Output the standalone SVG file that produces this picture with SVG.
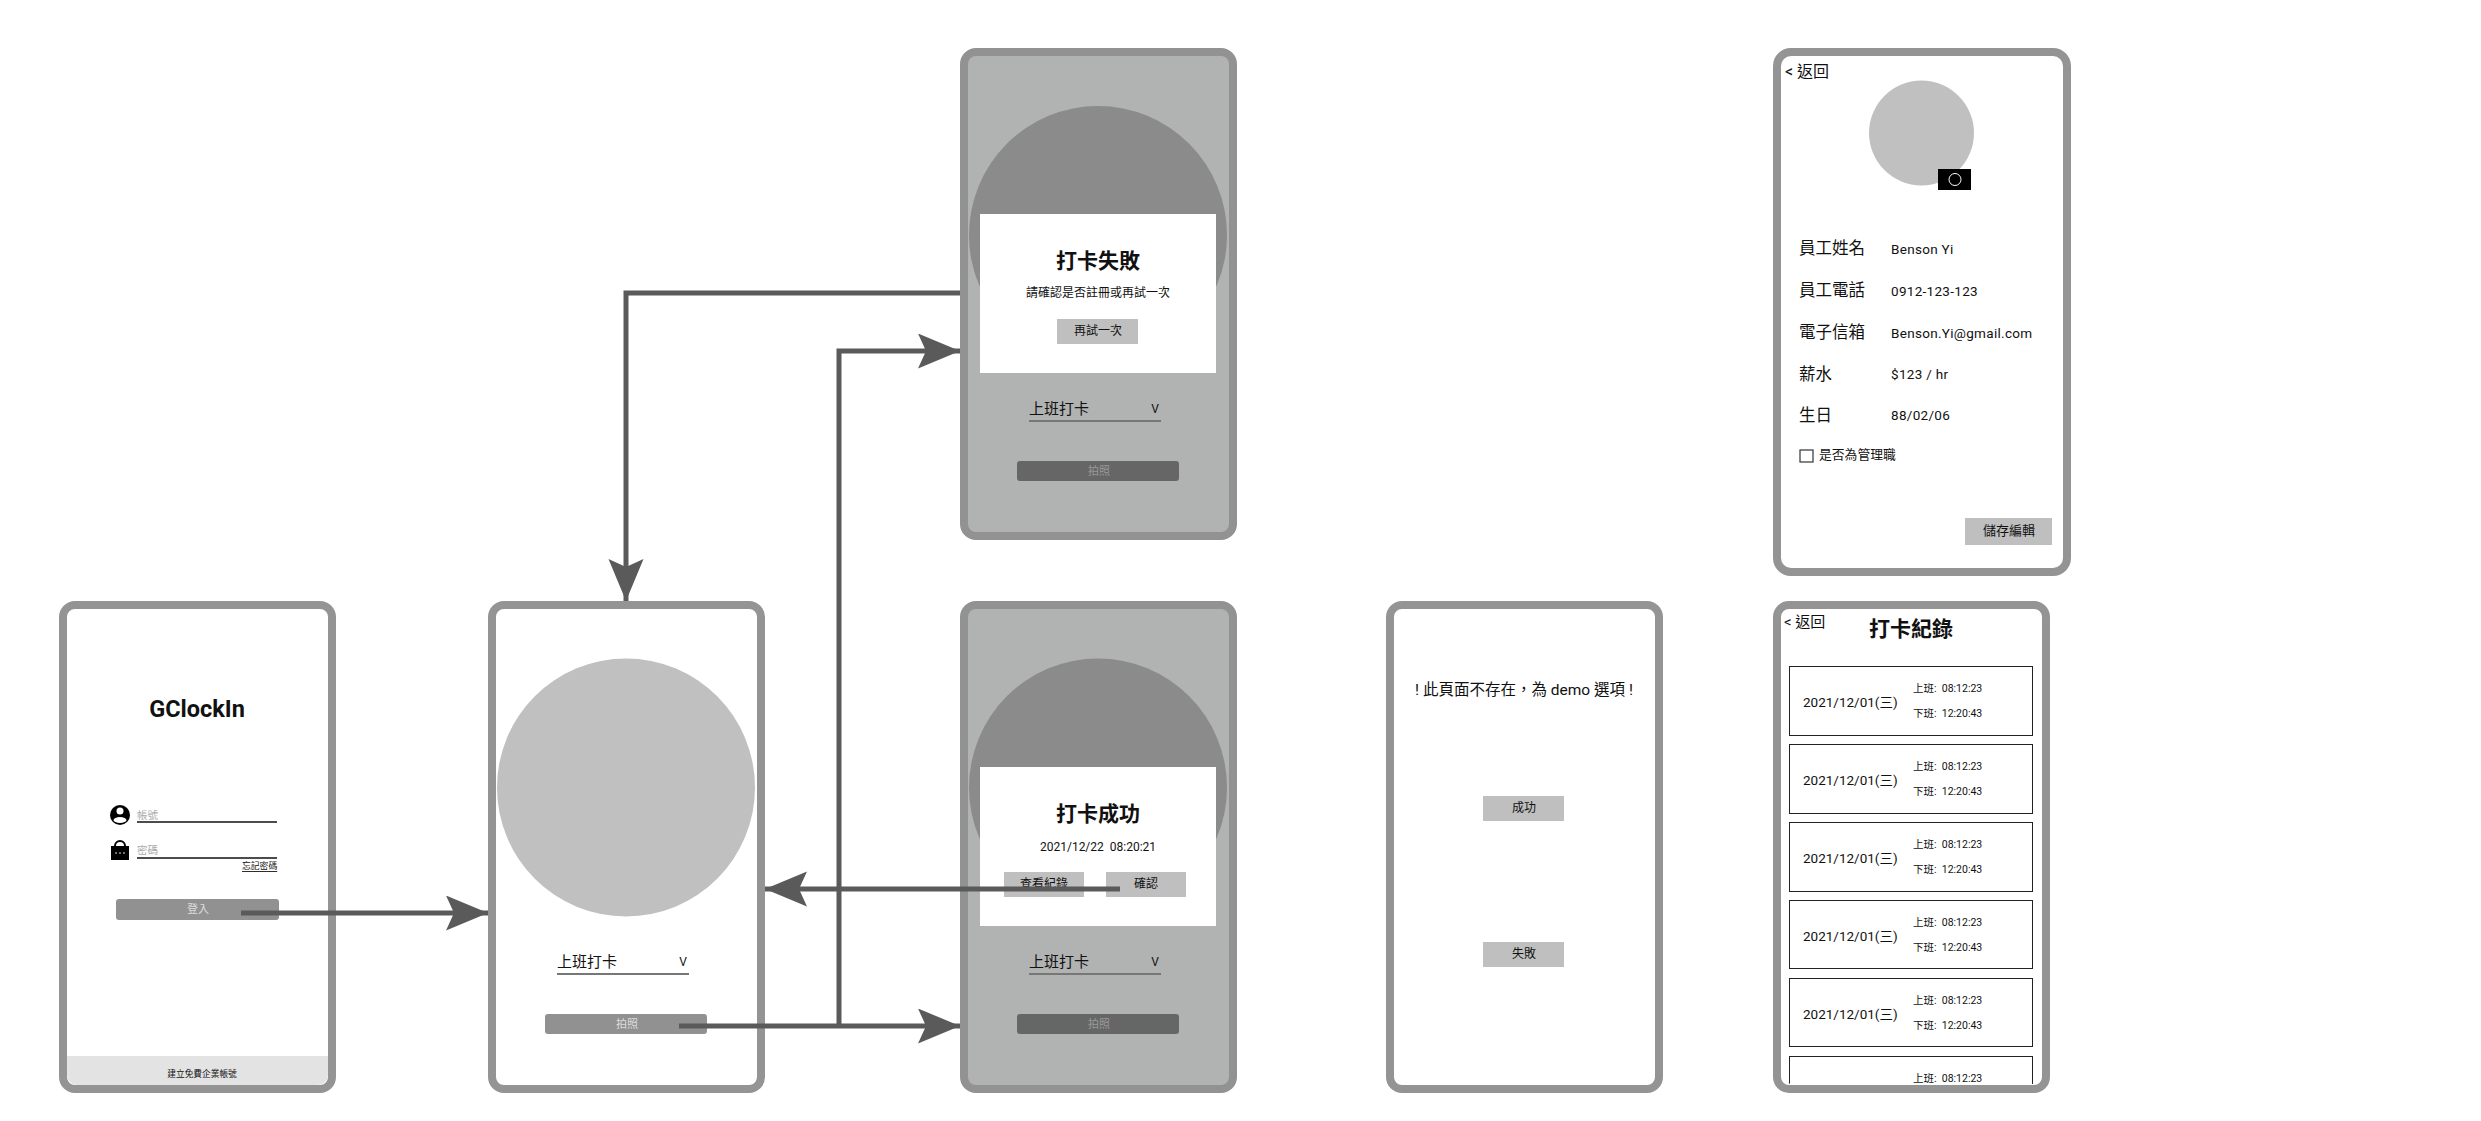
<svg xmlns="http://www.w3.org/2000/svg" width="2481" height="1121" viewBox="0 0 2481 1121">
<style>
text{font-family:Roboto,"Noto Sans CJK TC",sans-serif;fill:#111;dominant-baseline:central}
.m{text-anchor:middle}
.frame{fill:#fff;stroke:#949494;stroke-width:8}
.dim{fill:#b1b2b2;stroke:#929292;stroke-width:8}
.circ{fill:#c0c0c0}
.dc{fill:#8b8b8b}
.btn{fill:#bfbfbf}
.t{font-size:21px;font-weight:700}
.s{font-size:15px}
.sm{font-size:12px}
.lab{font-size:16.5px}
.val{font-size:13.5px;letter-spacing:.3px}
.d{font-size:13.5px}
.tm{font-size:10.5px}
.ul{stroke:#111;stroke-width:1.5}
.ud{stroke:#777;stroke-width:2}
.card{fill:#fff;stroke:#222;stroke-width:1}
.conn{fill:none;stroke:#5a5a5a;stroke-width:5}
</style>
<defs>
<marker id="ah" markerUnits="userSpaceOnUse" markerWidth="44" markerHeight="36" refX="42" refY="17.500" orient="auto">
<path d="M0,0L42,17.500L0,35L8,17.500Z" fill="#5a5a5a"/>
</marker>
<clipPath id="cl"><rect x="1781" y="605" width="261" height="479" rx="10"/></clipPath>
</defs>

<g id="login">
<rect class="frame" x="63" y="605" width="269" height="484" rx="12"/>
<path d="M67,1056H328V1075a10,10 0 0 1-10,10H77a10,10 0 0 1-10-10Z" fill="#e3e3e3"/>
<text class="m" x="197" y="709" font-size="23.500" font-weight="700">GClockIn</text>
<circle cx="120" cy="815" r="10" fill="#000"/>
<circle cx="120" cy="811" r="3.500" fill="#fff"/>
<ellipse cx="120" cy="820" rx="6.500" ry="3" fill="#fff"/>
<text x="137" y="815" font-size="10.500" style="fill:#aaa">帳號</text>
<line class="ul" x1="137" y1="822" x2="277" y2="822"/>
<rect x="111" y="846" width="18" height="14" fill="#000"/>
<path d="M115,846a5,5 0 0 1 10,0" fill="none" stroke="#000" stroke-width="2"/>
<circle cx="116" cy="853" r=".8" fill="#fff"/><circle cx="120" cy="853" r=".8" fill="#fff"/><circle cx="124" cy="853" r=".8" fill="#fff"/>
<text x="137" y="850" font-size="10.500" style="fill:#aaa">密碼</text>
<line class="ul" x1="137" y1="858" x2="277" y2="858"/>
<text x="242" y="866" font-size="8.800" text-decoration="underline">忘記密碼</text>
<rect x="116" y="899" width="163" height="21" rx="3" fill="#919191"/>
<text class="m" x="198" y="909" font-size="11" style="fill:#ddd">登入</text>
<text class="m" x="202" y="1074" font-size="8.700">建立免費企業帳號</text>
</g>

<g id="camera">
<rect class="frame" x="492" y="605" width="269" height="484" rx="12"/>
<circle class="circ" cx="626" cy="787.500" r="129"/>
<text x="557" y="962" class="s">上班打卡</text>
<text class="m" x="683" y="962" font-size="12">V</text>
<line class="ud" x1="557" y1="974" x2="689" y2="974"/>
<rect x="545" y="1014" width="162" height="20" rx="3" fill="#919191"/>
<text class="m" x="627" y="1024" font-size="11" style="fill:#ddd">拍照</text>
</g>

<g id="fail">
<rect class="dim" x="964" y="52" width="269" height="484" rx="12"/>
<circle class="dc" cx="1098" cy="235" r="129"/>
<rect x="980" y="214" width="236" height="159" fill="#fff"/>
<text class="m t" x="1098" y="261">打卡失敗</text>
<text class="m sm" x="1098" y="293">請確認是否註冊或再試一次</text>
<rect class="btn" x="1057" y="319" width="81" height="25"/>
<text class="m sm" x="1098" y="331">再試一次</text>
<text x="1029" y="409" class="s">上班打卡</text>
<text class="m" x="1155" y="409" font-size="12">V</text>
<line class="ud" x1="1029" y1="421" x2="1161" y2="421"/>
<rect x="1017" y="461" width="162" height="20" rx="3" fill="#666"/>
<text class="m" x="1099" y="471" font-size="11" style="fill:#999">拍照</text>
</g>

<g id="success">
<rect class="dim" x="964" y="605" width="269" height="484" rx="12"/>
<circle class="dc" cx="1098" cy="787.500" r="129"/>
<rect x="980" y="767" width="236" height="159" fill="#fff"/>
<text class="m t" x="1098" y="814">打卡成功</text>
<text class="m" x="1098" y="847" font-size="12" xml:space="preserve">2021/12/22  08:20:21</text>
<rect class="btn" x="1004" y="872" width="80" height="25"/>
<text class="m sm" x="1044" y="884">查看紀錄</text>
<rect class="btn" x="1106" y="872" width="80" height="25"/>
<text class="m sm" x="1146" y="884">確認</text>
<text x="1029" y="962" class="s">上班打卡</text>
<text class="m" x="1155" y="962" font-size="12">V</text>
<line class="ud" x1="1029" y1="974" x2="1161" y2="974"/>
<rect x="1017" y="1014" width="162" height="20" rx="3" fill="#666"/>
<text class="m" x="1099" y="1024" font-size="11" style="fill:#999">拍照</text>
</g>

<g id="demo">
<rect class="frame" x="1390" y="605" width="269" height="484" rx="12"/>
<text class="m" x="1524" y="690" font-size="15.500">! 此頁面不存在，為 demo 選項 !</text>
<rect class="btn" x="1483" y="796" width="81" height="25"/>
<text class="m sm" x="1524" y="808">成功</text>
<rect class="btn" x="1483" y="942" width="81" height="25"/>
<text class="m sm" x="1524" y="954">失敗</text>
</g>

<g id="profile">
<rect class="frame" x="1777" y="52" width="290" height="520" rx="14"/>
<text x="1785" y="71" font-size="16">&lt; 返回</text>
<circle class="circ" cx="1921.500" cy="133" r="52.500"/>
<rect x="1938" y="169" width="33" height="21" fill="#000"/>
<circle cx="1955" cy="179.500" r="6" fill="none" stroke="#fff" stroke-width="1"/>
<text class="lab" x="1799" y="248">員工姓名</text>
<text class="val" x="1891" y="249">Benson Yi</text>
<text class="lab" x="1799" y="290">員工電話</text>
<text class="val" x="1891" y="291">0912-123-123</text>
<text class="lab" x="1799" y="332">電子信箱</text>
<text class="val" x="1891" y="333">Benson.Yi@gmail.com</text>
<text class="lab" x="1799" y="374">薪水</text>
<text class="val" x="1891" y="374">$123 / hr</text>
<text class="lab" x="1799" y="415">生日</text>
<text class="val" x="1891" y="415">88/02/06</text>
<rect x="1800" y="450" width="13" height="12" fill="#fff" stroke="#333" stroke-width="1.200"/>
<text x="1819" y="454" font-size="12.800">是否為管理職</text>
<rect class="btn" x="1965" y="518" width="87" height="27"/>
<text class="m" x="2009" y="530" font-size="13">儲存編輯</text>
</g>

<g id="records">
<rect class="frame" x="1777" y="605" width="269" height="484" rx="12"/>
<text x="1784" y="622" font-size="15">&lt; 返回</text>
<text class="m t" x="1911" y="629">打卡紀錄</text>
<g clip-path="url(#cl)">
<g id="rec1"><rect class="card" x="1789.500" y="666.500" width="243" height="69"/><text class="d" x="1803" y="702">2021/12/01(三)</text><text class="tm" x="1913" y="688" xml:space="preserve">上班:  08:12:23</text><text class="tm" x="1913" y="713" xml:space="preserve">下班:  12:20:43</text></g>
<g id="rec2"><rect class="card" x="1789.500" y="744.500" width="243" height="69"/><text class="d" x="1803" y="780">2021/12/01(三)</text><text class="tm" x="1913" y="766" xml:space="preserve">上班:  08:12:23</text><text class="tm" x="1913" y="791" xml:space="preserve">下班:  12:20:43</text></g>
<g id="rec3"><rect class="card" x="1789.500" y="822.500" width="243" height="69"/><text class="d" x="1803" y="858">2021/12/01(三)</text><text class="tm" x="1913" y="844" xml:space="preserve">上班:  08:12:23</text><text class="tm" x="1913" y="869" xml:space="preserve">下班:  12:20:43</text></g>
<g id="rec4"><rect class="card" x="1789.500" y="900.500" width="243" height="68"/><text class="d" x="1803" y="936">2021/12/01(三)</text><text class="tm" x="1913" y="922" xml:space="preserve">上班:  08:12:23</text><text class="tm" x="1913" y="947" xml:space="preserve">下班:  12:20:43</text></g>
<g id="rec5"><rect class="card" x="1789.500" y="978.500" width="243" height="68"/><text class="d" x="1803" y="1014">2021/12/01(三)</text><text class="tm" x="1913" y="1000" xml:space="preserve">上班:  08:12:23</text><text class="tm" x="1913" y="1025" xml:space="preserve">下班:  12:20:43</text></g>
<g id="rec6"><rect class="card" x="1789.500" y="1056.500" width="243" height="68"/><text class="tm" x="1913" y="1078" xml:space="preserve">上班:  08:12:23</text></g>
</g>
</g>

<g id="connectors">
<path class="conn" marker-end="url(#ah)" d="M241,913H488"/>
<path class="conn" marker-end="url(#ah)" d="M679,1026H960"/>
<path class="conn" marker-end="url(#ah)" d="M839,1026V351H960"/>
<path class="conn" marker-end="url(#ah)" d="M960,293H626V601"/>
<path class="conn" marker-end="url(#ah)" d="M1120,889H765"/>
</g>
</svg>
